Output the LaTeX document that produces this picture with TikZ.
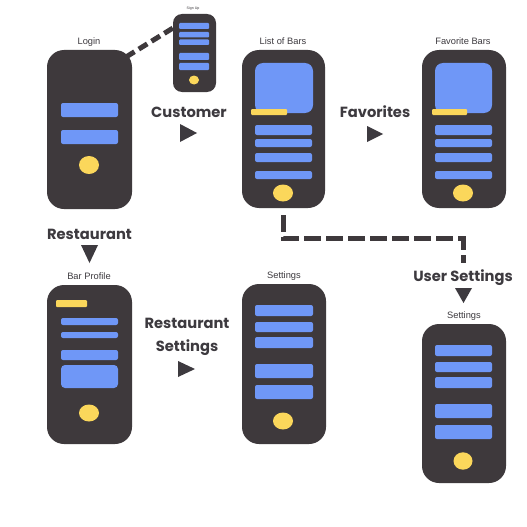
\documentclass[tikz,border=0pt]{standalone}
\usepackage{fontspec}
\setmainfont{Liberation Sans}
\newfontfamily\headfont{Poppins}
\usetikzlibrary{calc}
\definecolor{phonec}{HTML}{3E393C}
\definecolor{barc}{HTML}{6F97F7}
\definecolor{yelc}{HTML}{FBD75B}
\definecolor{txtc}{HTML}{3D3A3F}
\tikzset{
  phone/.style={fill=phonec, rounded corners=17pt, inner sep=0pt},
  smallphone/.style={fill=phonec, rounded corners=9pt, inner sep=0pt},
  lbl/.style={text=txtc, font=\fontsize{9.3}{10}\selectfont, inner sep=0pt},
  head/.style={text=txtc, font=\headfont\bfseries\fontsize{14.7}{23}\selectfont, inner sep=0pt, align=center},
  bar/.style={fill=barc, rounded corners=2pt},
  ybar/.style={fill=yelc, rounded corners=1pt},
  btn/.style={fill=yelc},
  tri/.style={fill=txtc},
  conn/.style={draw=phonec, line width=5pt},
}
\begin{document}
\begin{tikzpicture}[x=1pt,y=-1pt]
\useasboundingbox (0,0) rectangle (527,527);
\fill[white] (0,0) rectangle (527,527);

% ---------- Login ----------
\node[phone, minimum width=85pt, minimum height=159pt] (login) at (89.5,129.5) {};
\node[lbl] (loginl) at (89,42) {Login};
\fill[bar] (61,103) rectangle (118,117);
\fill[bar] (61,130) rectangle (118,144);
\fill[btn] (89,165) ellipse (10 and 9);

% ---------- Sign Up ----------
\node[smallphone, minimum width=43pt, minimum height=78pt] (signup) at (194.5,53) {};
\node[text=txtc, font=\fontsize{3.6}{4}\selectfont, inner sep=0pt] (signupl) at (193,9) {Sign Up};
\fill[bar, rounded corners=1pt] (179,23) rectangle (209,29);
\fill[bar, rounded corners=1pt] (179,32) rectangle (209,37.5);
\fill[bar, rounded corners=1pt] (179,39.5) rectangle (209,45);
\fill[bar, rounded corners=1pt] (179,53) rectangle (209,60);
\fill[bar, rounded corners=1pt] (179,63) rectangle (209,70);
\fill[btn] (194,80) ellipse (5 and 4.5);
\coordinate (lgA) at (126,57);
\coordinate (suA) at (173,28);
\draw[conn, dash pattern=on 10pt off 5pt] (lgA) -- (suA);

% ---------- Customer ----------
\node[head] (customer) at (189,112) {Customer};
\fill[tri] (180,124) -- (197,133) -- (180,142) -- cycle;

% ---------- List of Bars ----------
\node[phone, minimum width=83pt, minimum height=158pt] (list) at (283.5,129) {};
\node[lbl] (listl) at (283,41) {List of Bars};
\fill[bar, rounded corners=8pt] (255,63) rectangle (313,113);
\fill[ybar] (251,109) rectangle (287,115);
\fill[bar] (255,125) rectangle (312,135);
\fill[bar] (255,139) rectangle (312,147);
\fill[bar] (255,153) rectangle (312,162);
\fill[bar] (255,171) rectangle (312,179);
\fill[btn] (283,193) ellipse (10 and 8.5);

% ---------- Favorites ----------
\node[head] (favorites) at (375,112) {Favorites};
\fill[tri] (367,126) -- (383,134) -- (367,142) -- cycle;

% ---------- Favorite Bars ----------
\node[phone, minimum width=84pt, minimum height=158pt] (fav) at (464,129) {};
\node[lbl] (favl) at (463,41) {Favorite Bars};
\fill[bar, rounded corners=8pt] (435,63) rectangle (492,113);
\fill[ybar] (432,109) rectangle (467,115);
\fill[bar] (435,125) rectangle (492,135);
\fill[bar] (435,139) rectangle (492,147);
\fill[bar] (435,153) rectangle (492,162);
\fill[bar] (435,171) rectangle (492,179);
\fill[btn] (463,193) ellipse (10 and 8.5);

% ---------- Restaurant ----------
\node[head] (restaurant) at (89.5,234) {Restaurant};
\fill[tri] (81,245) -- (98,245) -- (89.5,263) -- cycle;

% ---------- Bar Profile ----------
\node[phone, minimum width=85pt, minimum height=159pt] (profile) at (89.5,364.5) {};
\node[lbl] (profilel) at (89,276) {Bar Profile};
\fill[ybar] (56,300) rectangle (87,307);
\fill[bar] (61,318) rectangle (118,325);
\fill[bar] (61,332) rectangle (118,338);
\fill[bar] (61,350) rectangle (118,360);
\fill[bar, rounded corners=4pt] (61,365) rectangle (118,388);
\fill[btn] (89,413) ellipse (10 and 8.5);

% ---------- Restaurant Settings ----------
\node[head] (rsettings) at (187,337) {Restaurant\\Settings};
\fill[tri] (178,361) -- (195,369) -- (178,377) -- cycle;

% ---------- Settings (middle) ----------
\node[phone, minimum width=84pt, minimum height=160pt] (settings) at (284,364) {};
\node[lbl] (settingsl) at (284,276) {Settings};
\fill[bar] (255,305) rectangle (313,316);
\fill[bar] (255,322) rectangle (313,332);
\fill[bar] (255,337) rectangle (313,348);
\fill[bar] (255,364) rectangle (313,378);
\fill[bar] (255,385) rectangle (313,399);
\fill[btn] (283,421) ellipse (10 and 8.5);

% ---------- User Settings ----------
\node[head] (usettings) at (463,278) {User Settings};
\fill[tri] (455,288) -- (472,288) -- (463.5,303) -- cycle;

\node[phone, minimum width=84pt, minimum height=159pt] (usett) at (464,403.5) {};
\node[lbl] (usettl) at (464,316) {Settings};
\fill[bar] (435,345) rectangle (492,356);
\fill[bar] (435,362) rectangle (492,372);
\fill[bar] (435,377) rectangle (492,388);
\fill[bar] (435,404) rectangle (492,418);
\fill[bar] (435,425) rectangle (492,439);
\fill[btn] (463,461) ellipse (9.5 and 8.7);

% ---------- dashed connector ----------
\coordinate (lsB) at (283,215);
\coordinate (turn1) at (283,238);
\coordinate (turn2) at (463,238);
\coordinate (usA) at (463,263);
\draw[conn, dash pattern=on 17pt off 5pt] (lsB) -- (turn1) -- (turn2) -- (usA);
\end{tikzpicture}
\end{document}
